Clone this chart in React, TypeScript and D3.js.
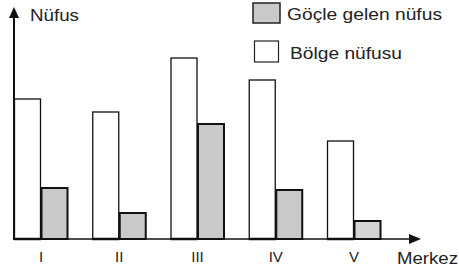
import * as d3 from "d3";

const categories = ["I", "II", "III", "IV", "V"];
const series = ["Bölge nüfusu", "Göçle gelen nüfus"];
const bolgeNufusu = [70, 63.5, 90.5, 79.5, 49];
const gocleGelen = [25.5, 13, 57.5, 24.5, 9];

const W = 459;
const H = 272;
const x0 = 14;
const baseY = 239;

export default function App() {
  const x = d3.scaleBand<string>().domain(categories).range([x0, 381]).paddingInner(0.31).paddingOuter(0);
  const xs = d3.scaleBand<string>().domain(series).range([0, x.bandwidth()]).padding(0);
  const y = d3.scaleLinear().domain([0, 100]).range([baseY, 39]);

  const rows = categories.map((c, i) => ({ c, vals: [bolgeNufusu[i], gocleGelen[i]] }));
  const font = "'Liberation Sans', Arial, sans-serif";

  return (
    <div style={{ position: "fixed", left: 0, top: 0 }}>
      <svg width={W} height={H} style={{ display: "block", background: "#fff" }} fontFamily={font}>
        {/* bars */}
        {rows.map((r) => (
          <g key={r.c} transform={`translate(${x(r.c)},0)`}>
            {r.vals.map((v, j) => (
              <rect
                key={j}
                x={(xs(series[j]) ?? 0) + 0.5}
                y={y(v)}
                width={xs.bandwidth() - 1}
                height={baseY - y(v)}
                fill={j === 0 ? "#fff" : r.c === "V" ? "#d4d4d4" : "#c9c9c9"}
                stroke="#111"
                strokeWidth={j === 0 ? 1.3 : 2}
              />
            ))}
            <line x1={0} x2={xs.bandwidth()} y1={baseY} y2={baseY} stroke="#111" strokeWidth={2.5} />
            <text x={x.bandwidth() / 2} y={262} textAnchor="middle" fontSize={15} fill="#222">
              {r.c}
            </text>
          </g>
        ))}

        {/* axes */}
        <line x1={x0} x2={x0} y1={baseY + 1} y2={16} stroke="#111" strokeWidth={2} />
        <path d={`M${x0},7 L${x0 - 5},18 L${x0 + 5},18 Z`} fill="#111" />
        <line x1={x0} x2={412} y1={baseY} y2={baseY} stroke="#111" strokeWidth={1.5} />
        <path d={`M421,${baseY} L409,${baseY - 5} L409,${baseY + 5} Z`} fill="#111" />

        <text x={30} y={21} fontSize={17} fill="#222" textLength={49} lengthAdjust="spacingAndGlyphs">Nüfus</text>
        <text x={397} y={264} fontSize={16} fill="#222" textLength={61} lengthAdjust="spacingAndGlyphs">Merkez</text>

        {/* legend */}
        <rect x={253} y={3} width={27} height={20} fill="#c9c9c9" stroke="#222" strokeWidth={1.5} />
        <text x={287} y={20} fontSize={17} fill="#222" textLength={155} lengthAdjust="spacingAndGlyphs">{series[1]}</text>
        <rect x={254.5} y={41} width={24} height={21} fill="#fff" stroke="#222" strokeWidth={1.2} />
        <text x={290} y={59} fontSize={17} fill="#222" textLength={112} lengthAdjust="spacingAndGlyphs">{series[0]}</text>
      </svg>
    </div>
  );
}
